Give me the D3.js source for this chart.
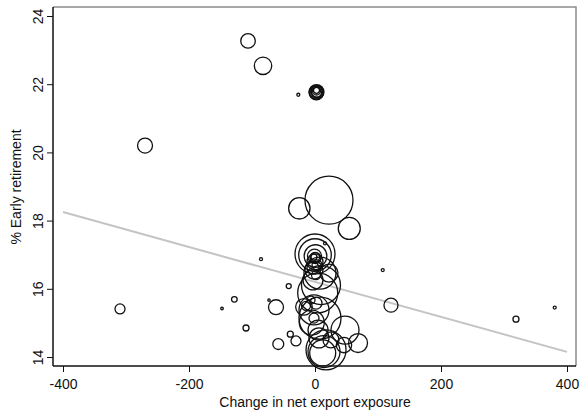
<!DOCTYPE html>
<html>
<head>
<meta charset="utf-8">
<script src="https://cdn.jsdelivr.net/npm/d3@7"></script>
<style>
  body { margin: 0; background: #fff; }
  text { font-family: "Liberation Sans", Arial, sans-serif; }
</style>
</head>
<body>
<div id="chart"></div>
<script>
// data: exposure (x), % early retirement (y), weight (bubble size)
const exposure = [
  0, 0, 0.8, -0.8, 0, -1.6, 0.8,
  -1.6, 7.9, 22.2, -3.2, 1.6, 9.5, -3.2, 3.2, 0,
  4.3, -17.5, -1.6, 7.9, -14.3, -1.6, -6.3, -5.1, 1.6, 4.8,
  17.5, 14.3, 12.2, 6.3, 46, 68.3, 47.6, 25.4,
  -106.3, -82.5, -26.5,
  2.4, 1.6, 3.2, 2.4, 2.4, 2.0, 2.8, 2.4,
  -269.8, 22.2, -24.9, 54.4, 120.6, 319, 380.5, -309.5,
  -128, -147.6, -109.5, -85.7, -41.7, 107.5, 15.9, -73,
  -61.9, -39.2, -30.2, -58.3
];
const earlyRetirement = [
  17.02, 16.99, 16.96, 16.96, 16.93, 16.93, 16.90,
  16.55, 16.46, 16.46, 16.61, 16.40, 16.11, 16.26, 16.70, 16.79,
  15.88, 15.47, 15.38, 15.14, 15.50, 15.14, 15.67, 15.01, 15.58, 14.79,
  14.21, 14.16, 14.12, 14.56, 14.35, 14.41, 14.79, 14.50,
  23.27, 22.54, 21.69,
  21.77, 21.76, 21.79, 21.76, 21.82, 21.75, 21.78, 21.80,
  20.20, 18.60, 18.36, 17.77, 15.52, 15.11, 15.45, 15.41,
  15.69, 15.42, 14.85, 16.87, 16.08, 16.55, 17.33, 15.67,
  15.46, 14.67, 14.47, 14.38
];
const weight = [
  400, 266, 128, 49, 22, 9, 30,
  81, 256, 81, 36, 20, 380, 100, 25, 64,
  400, 69, 225, 441, 20, 25, 16, 156, 36, 100,
  400, 256, 169, 100, 59, 90, 196, 64,
  53, 76, 2.25,
  56, 42, 34, 25, 9, 49, 38, 16,
  56, 576, 114, 121, 49, 9, 2.25, 25,
  8, 1.7, 9, 2.25, 6.25, 2.25, 2.25, 1.44,
  56, 9, 25, 30
];

// fitted line end points
const fitX = [-400, 400];
const fitY = [18.25, 14.15];

const xTicks = [-400, -200, 0, 200, 400];
const yTicks = [14, 16, 18, 20, 22, 24];

const width = 588, height = 411;
const frame = {left: 53, right: 576, top: 7, bottom: 366};

const svg = d3.select("#chart")
  .append("svg")
    .attr("width", width)
    .attr("height", height);

const x = d3.scaleLinear()
  .domain([-400, 400])
  .range([63, 567]);

const y = d3.scaleLinear()
  .domain([14, 24])
  .range([357, 16]);

const r = d3.scaleSqrt()
  .domain([0, 576])
  .range([0, 24]);

// top and right border (grey)
svg.append("path")
  .attr("d", `M${frame.left},${frame.top}H${frame.right}V${frame.bottom}`)
  .attr("fill", "none")
  .attr("stroke", "#8c8c8c")
  .attr("stroke-width", 1.5);

// fitted line
svg.append("path")
  .datum(d3.zip(fitX, fitY))
  .attr("fill", "none")
  .attr("stroke", "#c4c4c4")
  .attr("stroke-width", 2)
  .attr("d", d3.line()
    .x(d => x(d[0]))
    .y(d => y(d[1])));

// bubbles
const points = exposure.map((v, i) => ({x: v, y: earlyRetirement[i], w: weight[i]}));
svg.selectAll("circle.bubble")
  .data(points)
  .join("circle")
    .attr("class", "bubble")
    .attr("cx", d => x(d.x))
    .attr("cy", d => y(d.y))
    .attr("r", d => r(d.w))
    .attr("fill", "none")
    .attr("stroke", "#111")
    .attr("stroke-width", 1.3);

// x axis
const xAxis = svg.append("g")
  .attr("transform", `translate(0, ${frame.bottom})`)
  .call(d3.axisBottom(x).tickValues(xTicks).tickSize(6).tickPadding(7).tickSizeOuter(0));
xAxis.select(".domain")
  .attr("d", `M${frame.left},0H${frame.right}`)
  .attr("stroke", "#111")
  .attr("stroke-width", 1.5);
xAxis.selectAll(".tick line").attr("stroke", "#111");
xAxis.selectAll(".tick text")
  .attr("font-size", 14)
  .attr("fill", "#111")
  .text(d => d);

// y axis
const yAxis = svg.append("g")
  .attr("transform", `translate(${frame.left}, 0)`)
  .call(d3.axisLeft(y).tickValues(yTicks).tickSize(6).tickSizeOuter(0));
yAxis.select(".domain")
  .attr("d", `M0,${frame.top}V${frame.bottom}`)
  .attr("stroke", "#111")
  .attr("stroke-width", 1.5);
yAxis.selectAll(".tick line").attr("stroke", "#111");
yAxis.selectAll(".tick text")
  .attr("font-size", 14)
  .attr("fill", "#111")
  .attr("x", null)
  .attr("dy", null)
  .attr("text-anchor", "middle")
  .attr("transform", "translate(-10,0) rotate(-90)");

// axis titles
svg.append("text")
  .attr("x", 315)
  .attr("y", 407)
  .attr("text-anchor", "middle")
  .attr("font-size", 14)
  .attr("fill", "#111")
  .text("Change in net export exposure");

svg.append("text")
  .attr("transform", "translate(21, 187) rotate(-90)")
  .attr("text-anchor", "middle")
  .attr("font-size", 14)
  .attr("fill", "#111")
  .text("% Early retirement");
</script>
</body>
</html>
